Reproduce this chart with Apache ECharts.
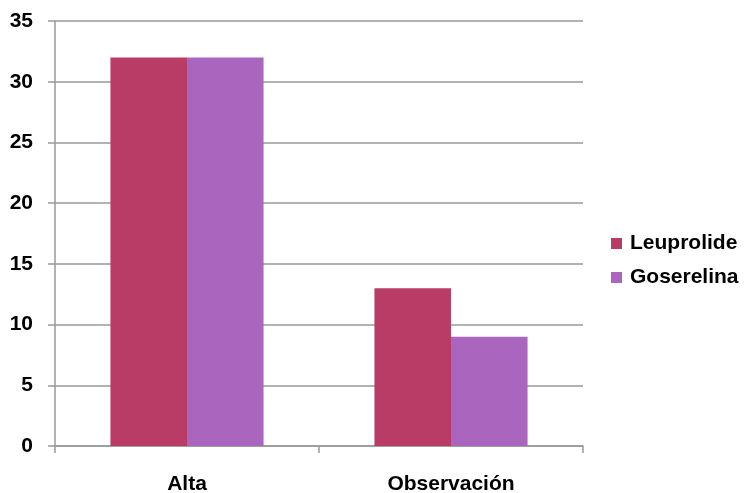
<!DOCTYPE html>
<html><head><meta charset="utf-8">
<script src="https://cdn.jsdelivr.net/npm/echarts@6/dist/echarts.min.js"></script>
<style>html,body{margin:0;padding:0;background:#fff}#c{width:747px;height:493px}</style>
</head><body><div id="c"></div>
<script>
var categories = ['Alta', 'Observación'];
var leuprolide = [32, 13];
var goserelina = [32, 9];
var yTicks = {min: 0, max: 35, interval: 5};

var font = "'Liberation Sans', Arial, sans-serif";
var chart = echarts.init(document.getElementById('c'), null, {renderer: 'canvas'});
chart.setOption({
  animation: false,
  backgroundColor: '#fff',
  grid: {left: 55, right: 164, top: 21, bottom: 47, containLabel: false, outerBoundsMode: 'none'},
  legend: {
    orient: 'vertical', left: 611, top: 233, itemWidth: 11, itemHeight: 11, itemGap: 13,
    icon: 'rect', padding: 0,
    textStyle: {fontFamily: font, fontWeight: 'bold', fontSize: 21, color: '#000', padding: [0,0,0,3]},
    data: ['Leuprolide', 'Goserelina']
  },
  xAxis: {
    type: 'category', data: categories,
    axisLine: {lineStyle: {color: '#999', width: 1.5}},
    axisTick: {show: true, length: 7, lineStyle: {color: '#999', width: 1.5}},
    axisLabel: {margin: 28, fontFamily: font, fontWeight: 'bold', fontSize: 21, color: '#000'}
  },
  yAxis: {
    type: 'value', min: yTicks.min, max: yTicks.max, interval: yTicks.interval,
    axisLine: {show: true, lineStyle: {color: '#999', width: 1.5}},
    axisTick: {show: true, length: 7, lineStyle: {color: '#999', width: 1.5}},
    splitLine: {lineStyle: {color: '#999', width: 1.5}},
    axisLabel: {margin: 22, fontFamily: font, fontWeight: 'bold', fontSize: 21, color: '#000'}
  },
  series: [
    {name: 'Leuprolide', type: 'bar', data: leuprolide, barGap: '0%', barCategoryGap: '42%', itemStyle: {color: '#B93C66'}},
    {name: 'Goserelina', type: 'bar', data: goserelina, itemStyle: {color: '#AA66BE'}}
  ]
});
</script></body></html>
